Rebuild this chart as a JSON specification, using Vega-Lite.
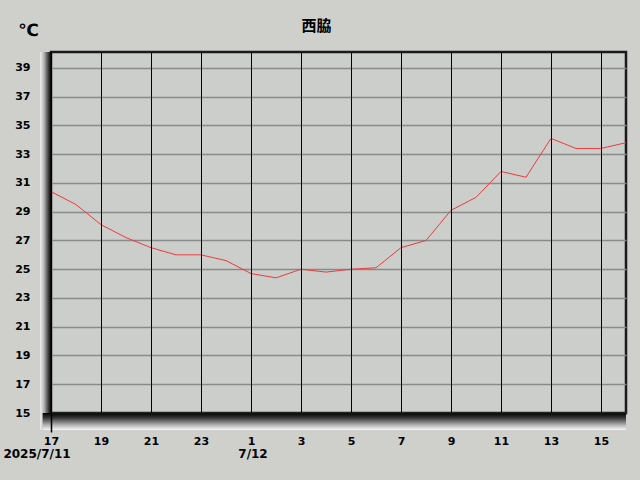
{
  "$schema": "https://vega.github.io/schema/vega-lite/v6.json",
  "width": 575,
  "height": 361,
  "autosize": {"type": "none"},
  "padding": {"left": 51, "top": 52, "right": 14, "bottom": 67},
  "background": "#cfd0cc",
  "title": {
    "text": "西脇",
    "font": "Noto Sans CJK JP",
    "fontSize": 15,
    "fontWeight": "bold",
    "color": "#000000",
    "anchor": "middle",
    "dx": -22,
    "offset": -13
  },
  "config": {
    "view": {"stroke": "#1a1a1a", "strokeWidth": 2.5, "fill": "#cccecb"},
    "axis": {
      "labelFont": "DejaVu Sans",
      "labelFontWeight": "bold",
      "labelFontSize": 11,
      "labelColor": "#000000"
    }
  },
  "layer": [
    {
      "data": {
        "values": [
          {"time": "2025-07-11T17:00:00", "temp": 30.4},
          {"time": "2025-07-11T18:00:00", "temp": 29.5},
          {"time": "2025-07-11T19:00:00", "temp": 28.1},
          {"time": "2025-07-11T20:00:00", "temp": 27.2},
          {"time": "2025-07-11T21:00:00", "temp": 26.5},
          {"time": "2025-07-11T22:00:00", "temp": 26.0},
          {"time": "2025-07-11T23:00:00", "temp": 26.0},
          {"time": "2025-07-12T00:00:00", "temp": 25.6},
          {"time": "2025-07-12T01:00:00", "temp": 24.7},
          {"time": "2025-07-12T02:00:00", "temp": 24.4},
          {"time": "2025-07-12T03:00:00", "temp": 25.0},
          {"time": "2025-07-12T04:00:00", "temp": 24.8},
          {"time": "2025-07-12T05:00:00", "temp": 25.0},
          {"time": "2025-07-12T06:00:00", "temp": 25.1},
          {"time": "2025-07-12T07:00:00", "temp": 26.5},
          {"time": "2025-07-12T08:00:00", "temp": 27.0},
          {"time": "2025-07-12T09:00:00", "temp": 29.1},
          {"time": "2025-07-12T10:00:00", "temp": 30.0},
          {"time": "2025-07-12T11:00:00", "temp": 31.8},
          {"time": "2025-07-12T12:00:00", "temp": 31.4},
          {"time": "2025-07-12T13:00:00", "temp": 34.1},
          {"time": "2025-07-12T14:00:00", "temp": 33.4},
          {"time": "2025-07-12T15:00:00", "temp": 33.4},
          {"time": "2025-07-12T16:00:00", "temp": 33.8}
        ]
      },
      "mark": {"type": "line", "color": "#f03a3a", "strokeWidth": 1},
      "encoding": {
        "x": {
          "field": "time",
          "type": "temporal",
          "scale": {
            "domain": [
              {"year": 2025, "month": 7, "date": 11, "hours": 17},
              {"year": 2025, "month": 7, "date": 12, "hours": 16}
            ]
          },
          "axis": {
            "title": null,
            "zindex": 1,
            "tickCount": 30,
            "values": [
              {"year": 2025, "month": 7, "date": 11, "hours": 17},
              {"year": 2025, "month": 7, "date": 11, "hours": 19},
              {"year": 2025, "month": 7, "date": 11, "hours": 21},
              {"year": 2025, "month": 7, "date": 11, "hours": 23},
              {"year": 2025, "month": 7, "date": 12, "hours": 1},
              {"year": 2025, "month": 7, "date": 12, "hours": 3},
              {"year": 2025, "month": 7, "date": 12, "hours": 5},
              {"year": 2025, "month": 7, "date": 12, "hours": 7},
              {"year": 2025, "month": 7, "date": 12, "hours": 9},
              {"year": 2025, "month": 7, "date": 12, "hours": 11},
              {"year": 2025, "month": 7, "date": 12, "hours": 13},
              {"year": 2025, "month": 7, "date": 12, "hours": 15}
            ],
            "labelExpr": "'' + hours(datum.value)",
            "labelPadding": 3,
            "labelBaseline": "top",
            "labelFlush": false,
            "labelOverlap": false,
            "grid": true,
            "gridColor": "#000000",
            "gridWidth": 1,
            "domain": true,
            "domainColor": "#111111",
            "domainWidth": 2,
            "ticks": true,
            "tickSize": 19,
            "tickWidth": 1.5,
            "tickColor": {"condition": {"test": "hours(datum.value) == 17", "value": "#000000"}, "value": "transparent"}
          }
        },
        "y": {
          "field": "temp",
          "type": "quantitative",
          "scale": {"domain": [15, 40.11], "nice": false, "zero": false},
          "axis": {
            "title": "℃",
            "titleAngle": 0,
            "titleFont": "DejaVu Sans",
            "titleFontSize": 17,
            "titleFontWeight": "bold",
            "titleColor": "#000000",
            "titleAlign": "center",
            "titleBaseline": "middle",
            "titleX": -23,
            "titleY": -22,
            "tickCount": 30,
            "values": [15, 17, 19, 21, 23, 25, 27, 29, 31, 33, 35, 37, 39],
            "grid": true,
            "gridColor": "#8a8a8a",
            "gridWidth": 1.5,
            "domain": false,
            "ticks": true,
            "tickSize": 11,
            "tickWidth": 1.5,
            "tickColor": {"condition": {"test": "datum.value == 15", "value": "#000000"}, "value": "transparent"},
            "labelPadding": 10,
            "labelFlush": false,
            "labelOverlap": false
          }
        }
      }
    },
    {
      "data": {"values": [{}]},
      "mark": {
        "type": "rect",
        "color": {
          "gradient": "linear",
          "x1": 0, "y1": 0, "x2": 1, "y2": 0,
          "stops": [
            {"offset": 0, "color": "#f2f2f2"},
            {"offset": 0.35, "color": "#b4b4b4"},
            {"offset": 0.7, "color": "#505050"},
            {"offset": 1, "color": "#000000"}
          ]
        }
      },
      "encoding": {
        "x": {"datum": {"year": 2025, "month": 7, "date": 11, "hours": 16, "minutes": 34}, "type": "temporal"},
        "x2": {"datum": {"year": 2025, "month": 7, "date": 11, "hours": 17}},
        "y": {"datum": 13.82, "type": "quantitative"},
        "y2": {"datum": 40.11}
      }
    },
    {
      "data": {"values": [{}]},
      "mark": {
        "type": "rect",
        "color": {
          "gradient": "linear",
          "x1": 0, "y1": 0, "x2": 0, "y2": 1,
          "stops": [
            {"offset": 0, "color": "#000000"},
            {"offset": 0.3, "color": "#3a3a3a"},
            {"offset": 0.7, "color": "#b0b0b0"},
            {"offset": 1, "color": "#f6f6f6"}
          ]
        }
      },
      "encoding": {
        "x": {"datum": {"year": 2025, "month": 7, "date": 11, "hours": 16, "minutes": 40}, "type": "temporal"},
        "x2": {"datum": {"year": 2025, "month": 7, "date": 12, "hours": 16}},
        "y": {"datum": 15, "type": "quantitative"},
        "y2": {"datum": 13.82}
      }
    },
    {
      "data": {"values": [{"time": "2025-07-11T17:00:00", "date": "2025/7/11"}]},
      "mark": {"type": "text", "font": "DejaVu Sans", "fontWeight": "bold", "fontSize": 12, "color": "#000000", "align": "center", "baseline": "middle", "dx": -14, "dy": 41},
      "encoding": {
        "x": {"field": "time", "type": "temporal"},
        "y": {"datum": 15, "type": "quantitative"},
        "text": {"field": "date"}
      }
    },
    {
      "data": {"values": [{"time": "2025-07-12T01:00:00", "date": "7/12"}]},
      "mark": {"type": "text", "font": "DejaVu Sans", "fontWeight": "bold", "fontSize": 12, "color": "#000000", "align": "center", "baseline": "middle", "dx": 2, "dy": 41},
      "encoding": {
        "x": {"field": "time", "type": "temporal"},
        "y": {"datum": 15, "type": "quantitative"},
        "text": {"field": "date"}
      }
    }
  ]
}
